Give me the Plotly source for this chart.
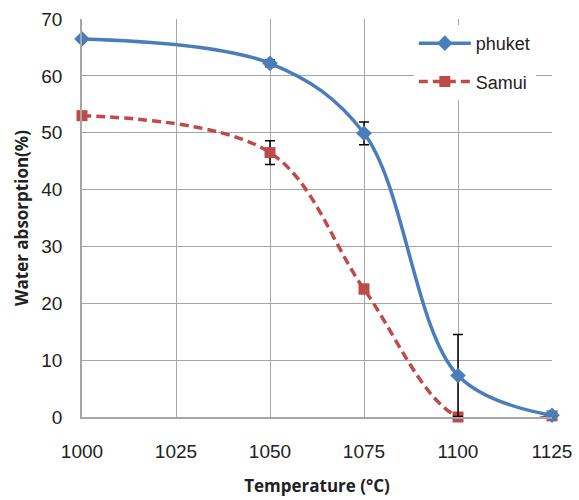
import plotly.graph_objects as go

temps = [1000, 1050, 1075, 1100, 1125]
phuket = [66.5, 62.2, 49.9, 7.3, 0.3]
phuket_err = [0, 0.6, 2.0, 7.2, 0]
samui = [53.0, 46.5, 22.5, 0.0, 0.2]
samui_err = [0, 2.1, 0.8, 0, 0]

x_ticks = [1000, 1025, 1050, 1075, 1100, 1125]
y_ticks = [0, 10, 20, 30, 40, 50, 60, 70]

blue = "#4A7EBB"
red = "#BE4B48"

fig = go.Figure()
fig.add_trace(go.Scatter(
    x=temps, y=samui, name="Samui", mode="lines+markers",
    line=dict(color=red, width=3.5, dash="9px,5px", shape="spline", smoothing=1),
    marker=dict(symbol="square", size=11, color=red),
    error_y=dict(type="data", array=samui_err, color="black", thickness=1.5, width=5),
    legendgroup="b", legendrank=2, cliponaxis=False,
))
fig.add_trace(go.Scatter(
    x=temps, y=phuket, name="phuket", mode="lines+markers",
    line=dict(color=blue, width=3.5, shape="spline", smoothing=1),
    marker=dict(symbol="diamond", size=12, color=blue),
    error_y=dict(type="data", array=phuket_err, color="black", thickness=1.5, width=5),
    legendgroup="a", legendrank=1, cliponaxis=False,
))

fig.update_layout(
    width=579, height=500,
    margin=dict(l=82, r=27, t=19, b=83, autoexpand=False),
    paper_bgcolor="white", plot_bgcolor="white",
    font=dict(family="Liberation Sans, Arial, sans-serif", size=19, color="#222222"),
    showlegend=True,
    legend=dict(x=0.706, y=0.985, xanchor="left", yanchor="top",
                bgcolor="white", font=dict(size=18, color="#222222"),
                traceorder="grouped", tracegroupgap=12, itemwidth=52),
    xaxis=dict(range=[1000, 1125], tickvals=x_ticks, ticktext=[str(v) for v in x_ticks],
               showgrid=True, gridcolor="#A6A6A6", gridwidth=1,
               showline=True, linecolor="#A6A6A6", linewidth=1.5,
               zeroline=False, ticks="", ticklabelstandoff=16, automargin=False,
               title=dict(text="<b>Temperature (°C)</b>", standoff=20,
                          font=dict(family="Open Sans, sans-serif", size=17))),
    yaxis=dict(range=[0, 70], tickvals=y_ticks, showgrid=True, gridcolor="#A6A6A6", gridwidth=1,
               showline=True, linecolor="#A6A6A6", linewidth=1.5,
               zeroline=False, ticks="", ticklabelstandoff=14, automargin=False,
               title=dict(text="<b>Water absorption(%)</b>", standoff=8,
                          font=dict(family="Open Sans, sans-serif", size=17))),
)

fig.write_html("out.html")
